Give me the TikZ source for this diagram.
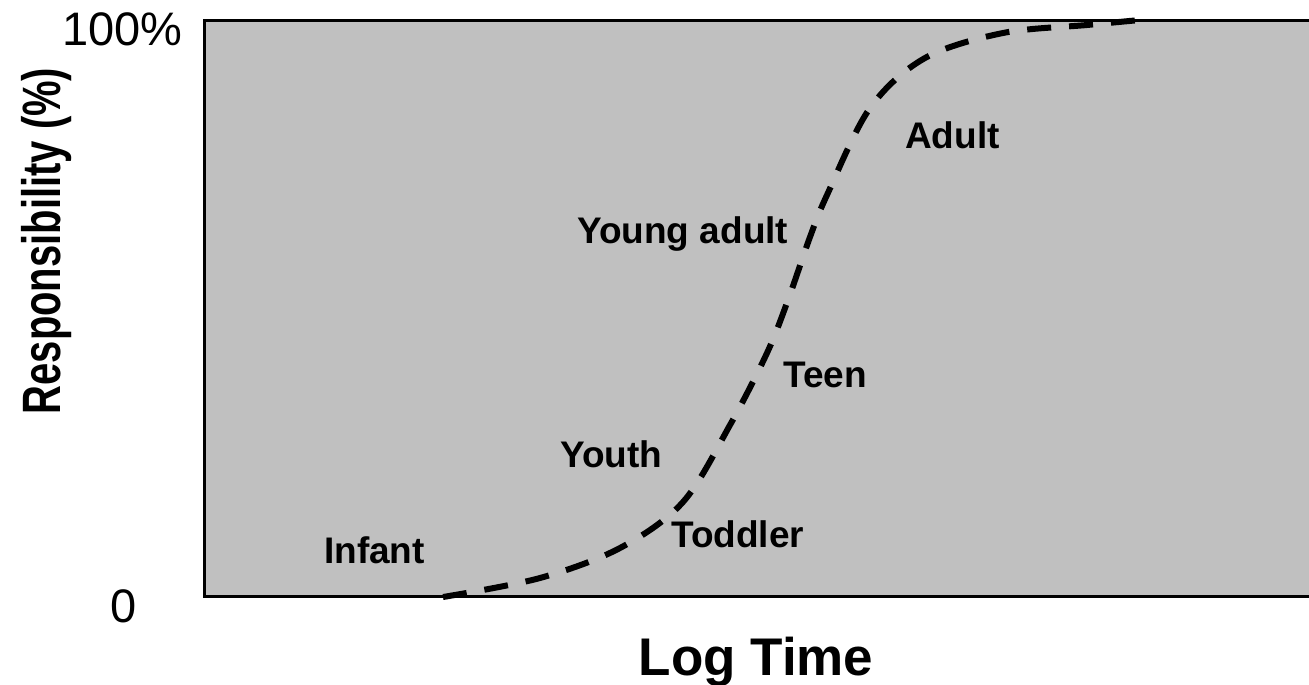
\documentclass[tikz,border=0pt]{standalone}
\usepackage{fontspec}
\setmainfont{Liberation Sans}
\definecolor{plotgray}{RGB}{192,192,192}
\begin{document}
\begin{tikzpicture}[x=1pt,y=-1pt,
  lbl/.style={font=\fontsize{37}{40}\selectfont\bfseries, inner sep=0pt, anchor=base west},
  tick/.style={font=\fontsize{47}{50}\selectfont, inner sep=0pt},
  axis/.style={font=\bfseries, inner sep=0pt}]
\useasboundingbox (0,0) rectangle (1309,685);
\begin{scope}
\clip (0,0) rectangle (1309,685);
\draw[line width=3pt, fill=plotgray] (204,20.5) rectangle (1330,596.5);
\end{scope}
\draw[line width=6pt, dash pattern=on 24pt off 18pt] plot[smooth, tension=0.55] coordinates {
  (443,597) (540,578) (620,548) (683,502) (730,425) (767,353) (788,300) (810,237) (827,195) (870,108) (925,58) (1003,33) (1087,25) (1140,20)};
\node[lbl] (adult) at (905,148) {Adult};
\node[lbl] (yadult) at (577,243) {Young adult};
\node[lbl] (teen) at (783,387) {Teen};
\node[lbl] (youth) at (560,467) {Youth};
\node[lbl] (toddler) at (671,547) {Toddler};
\node[lbl] (infant) at (324,563) {Infant};
\node[tick, anchor=base east] (hundred) at (183,46) {100\%};
\node[tick, anchor=base] (zero) at (124,622) {0};
\node[axis, font=\fontsize{53}{56}\selectfont\bfseries, anchor=base] (xlab) at (756,675) {Log Time};
\node[axis, font=\fontsize{54}{58}\selectfont\bfseries, rotate=90, anchor=base, xscale=0.74] (ylab) at (60,241) {Responsibility (\%)};
\end{tikzpicture}
\end{document}
